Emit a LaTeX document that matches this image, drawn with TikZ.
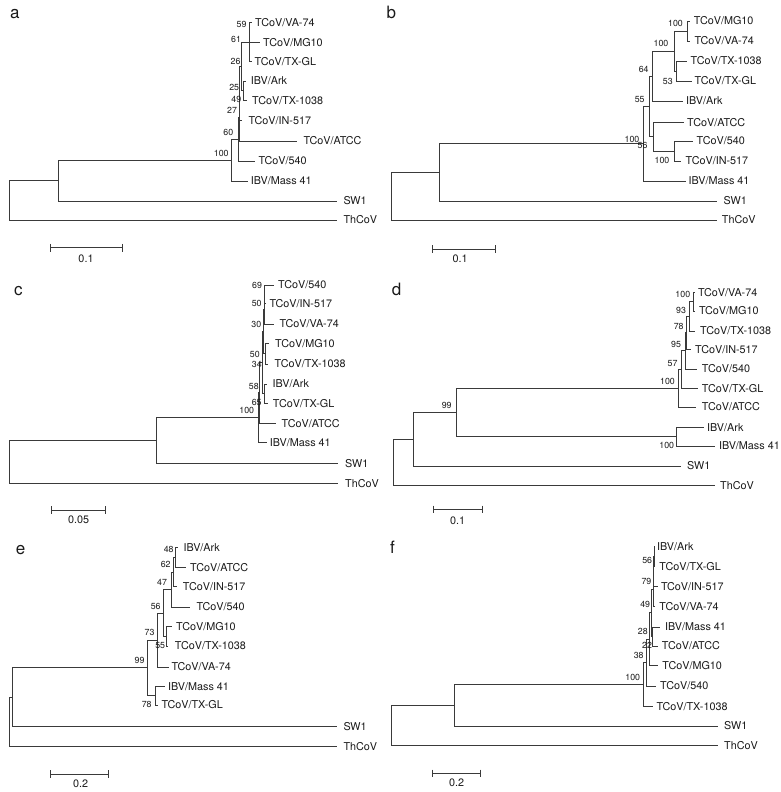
\documentclass[tikz,border=0pt]{standalone}
\usepackage{fontspec}
\setmainfont{TeX Gyre Heros}
\usetikzlibrary{calc}
\definecolor{lncol}{HTML}{3A3A3A}
\definecolor{txcol}{HTML}{1A1A1A}
\tikzset{
  br/.style={draw=lncol, line width=0.9pt, line join=miter},
  lab/.style={anchor=base west, inner sep=0pt, text=txcol, font=\fontsize{10.8}{12}\selectfont},
  bsl/.style={inner sep=0pt, text=txcol, font=\fontsize{8.8}{10}\selectfont},
  scl/.style={anchor=base, inner sep=0pt, text=txcol, font=\fontsize{10.8}{12}\selectfont},
  panel/.style={anchor=base west, inner sep=0pt, text=txcol, font=\fontsize{17}{19}\selectfont}
}
\newcommand\leafnode[5]{\coordinate (#1) at (#2,#3); \node[lab] (#1l) at (#4,#3+3.9) {#5};}
\newcommand\inode[4]{\path let \p1=($(#3)!0.5!(#4)$) in coordinate (#1) at (#2pt,\y1); \draw[br] (#1) |- (#3) (#1) |- (#4);}
\newcommand\bsval[4]{\node[bsl] (#1) at (#2,#3) {#4};}
\newcommand\sbar[7]{\coordinate (#1a) at (#2,#4); \coordinate (#1b) at (#3,#4);
  \draw[br] (#1a) -- (#1b);
  \draw[br] ($(#1a)+(0,-3.8)$) -- ($(#1a)+(0,3.8)$);
  \draw[br] ($(#1b)+(0,-3.8)$) -- ($(#1b)+(0,3.8)$);
  \node[scl] (#1l) at (#5,#6+3.9) {#7};}
\begin{document}
\begin{tikzpicture}[x=1pt,y=-1pt]
\useasboundingbox[fill=white] (0,0) rectangle (780,792);
% ================= panel a
\node[panel] (pa) at (10,19) {a};
\leafnode{aVA}{251.5}{22.7}{255}{TCoV/VA-74}
\leafnode{aMG}{260}{42.3}{263}{TCoV/MG10}
\leafnode{aGL}{252}{61.7}{254.5}{TCoV/TX-GL}
\leafnode{aArk}{245.5}{81}{250.7}{IBV/Ark}
\leafnode{a1038}{246.5}{100.7}{252}{TCoV/TX-1038}
\leafnode{aIN}{242}{120.7}{248.3}{TCoV/IN-517}
\leafnode{aATCC}{296.7}{141}{303.3}{TCoV/ATCC}
\leafnode{a540}{255}{161}{258.3}{TCoV/540}
\leafnode{aMass}{248.3}{181}{250.7}{IBV/Mass 41}
\leafnode{aSW}{336.7}{201}{343.3}{SW1}
\leafnode{aTh}{336.7}{220}{343.3}{ThCoV}
\inode{aN59}{249}{aVA}{aGL}
\inode{aN61}{246.7}{aN59}{aMG}
\inode{aN25}{243.3}{aArk}{a1038}
\inode{aN26}{241}{aN61}{aN25}
\inode{aN49}{239.8}{aN26}{aIN}
\inode{aN27}{239.2}{aN49}{aATCC}
\inode{aN60}{238.7}{aN27}{a540}
\inode{aN100}{231.3}{aN60}{aMass}
\inode{aN1}{58.7}{aN100}{aSW}
\inode{aRoot}{9.3}{aN1}{aTh}
\bsval{aB59}{241.5}{24.5}{59}
\bsval{aB61}{236}{39.7}{61}
\bsval{aB26}{235.6}{61.8}{26}
\bsval{aB25}{234.2}{87.8}{25}
\bsval{aB49}{236.3}{99.7}{49}
\bsval{aB27}{232}{110.8}{27}
\bsval{aB60}{228.3}{132.2}{60}
\bsval{aB100}{221.3}{153}{100}
\sbar{aS}{50}{122.3}{247.7}{86}{258.3}{0.1}
% ================= panel b
\node[panel] (pb) at (386.5,18.5) {b};
\leafnode{bMG}{690}{21}{693.7}{TCoV/MG10}
\leafnode{bVA}{690}{41}{694.3}{TCoV/VA-74}
\leafnode{b1038}{686.7}{61}{690.5}{TCoV/TX-1038}
\leafnode{bGL}{691.5}{81}{694.5}{TCoV/TX-GL}
\leafnode{bArk}{682.5}{101}{686}{IBV/Ark}
\leafnode{bATCC}{684}{122.7}{687}{TCoV/ATCC}
\leafnode{b540}{693}{141}{696.5}{TCoV/540}
\leafnode{bIN}{681}{161}{685.5}{TCoV/IN-517}
\leafnode{bMass}{685.5}{181}{688.5}{IBV/Mass 41}
\leafnode{bSW}{716.7}{201}{723.5}{SW1}
\leafnode{bTh}{716.7}{220}{721.7}{ThCoV}
\inode{bN100c}{687.5}{bMG}{bVA}
\inode{bN53}{676.5}{b1038}{bGL}
\inode{bN100b}{674.5}{bN100c}{bN53}
\inode{bN64}{652.7}{bN100b}{bArk}
\inode{bN100d}{674.3}{b540}{bIN}
\inode{bN56}{653}{bATCC}{bN100d}
\inode{bN55}{649.3}{bN64}{bN56}
\inode{bN100}{643.3}{bN55}{bMass}
\inode{bN1}{439.3}{bN100}{bSW}
\inode{bRoot}{391.7}{bN1}{bTh}
\bsval{bB100c}{675.5}{23.5}{100}
\bsval{bB100b}{661}{43.3}{100}
\bsval{bB64}{643.7}{69.3}{64}
\bsval{bB53}{667.8}{81}{53}
\bsval{bB55}{639.7}{99.7}{55}
\bsval{bB100}{632}{139.5}{100}
\bsval{bB56}{642.5}{145}{56}
\bsval{bB100d}{662}{160.5}{100}
\sbar{bS}{432.3}{495}{249}{460}{258.3}{0.1}
% ================= panel c
\node[panel] (pc) at (14,295) {c};
\leafnode{c540}{273.5}{285}{278}{TCoV/540}
\leafnode{cIN}{265.3}{303.3}{269.3}{TCoV/IN-517}
\leafnode{cVA}{274}{324}{279.3}{TCoV/VA-74}
\leafnode{cMG}{269}{343.3}{275}{TCoV/MG10}
\leafnode{c1038}{268}{364}{274.5}{TCoV/TX-1038}
\leafnode{cArk}{266.7}{384}{272.5}{IBV/Ark}
\leafnode{cGL}{268}{403.3}{272.7}{TCoV/TX-GL}
\leafnode{cATCC}{276.3}{423.3}{281.5}{TCoV/ATCC}
\leafnode{cMass}{266.7}{442.7}{269.7}{IBV/Mass 41}
\leafnode{cSW}{337.5}{463.3}{345}{SW1}
\leafnode{cTh}{337.5}{483.3}{345}{ThCoV}
\inode{cN69}{264.5}{c540}{cIN}
\inode{cN50a}{264}{cN69}{cVA}
\inode{cNMT}{265}{cMG}{c1038}
\inode{cN50b}{263.3}{cN50a}{cNMT}
\inode{cN58}{264.3}{cArk}{cGL}
\inode{cN34}{262}{cN50b}{cN58}
\inode{cN65}{259.7}{cN34}{cATCC}
\inode{cN100}{258.7}{cN65}{cMass}
\inode{cN1}{156}{cN100}{cSW}
\inode{cRoot}{9.3}{cN1}{cTh}
\bsval{cB69}{257}{285.7}{69}
\bsval{cB50a}{256.7}{303}{50}
\bsval{cB30}{256.3}{324}{30}
\bsval{cB50b}{254.8}{354.7}{50}
\bsval{cB34}{256.8}{364}{34}
\bsval{cB58}{253.8}{386}{58}
\bsval{cB65}{256.7}{402.3}{65}
\bsval{cB100}{246.7}{410.8}{100}
\sbar{cS}{51.7}{105.7}{510}{78.7}{520}{0.05}
% ================= panel d
\node[panel] (pd) at (391.7,295) {d};
\leafnode{dVA}{695}{292.7}{697.8}{TCoV/VA-74}
\leafnode{dMG}{695}{311}{698.8}{TCoV/MG10}
\leafnode{d1038}{695}{331}{700}{TCoV/TX-1038}
\leafnode{dIN}{691}{349.3}{695}{TCoV/IN-517}
\leafnode{d540}{697}{369}{701.7}{TCoV/540}
\leafnode{dGL}{697.5}{388.3}{701.7}{TCoV/TX-GL}
\leafnode{dATCC}{695.5}{407}{701.7}{TCoV/ATCC}
\leafnode{dArk}{703.7}{427.2}{707}{IBV/Ark}
\leafnode{dMass}{715}{446}{718.8}{IBV/Mass 41}
\leafnode{dSW}{681.3}{466}{687}{SW1}
\leafnode{dTh}{715}{485.5}{720}{ThCoV}
\inode{dN100c}{693.3}{dVA}{dMG}
\inode{dN93}{689.7}{dN100c}{d1038}
\inode{dN78}{686}{dN93}{dIN}
\inode{dN95}{685}{dN78}{d540}
\inode{dN57}{681}{dN95}{dGL}
\inode{dN100t}{678}{dN57}{dATCC}
\inode{dN100i}{676.7}{dArk}{dMass}
\inode{dN99}{456}{dN100t}{dN100i}
\inode{dN1}{413.3}{dN99}{dSW}
\inode{dRoot}{393.3}{dN1}{dTh}
\bsval{dB100c}{682.8}{294.3}{100}
\bsval{dB93}{681}{310.3}{93}
\bsval{dB78}{678.7}{326}{78}
\bsval{dB95}{676}{344.7}{95}
\bsval{dB57}{672.5}{363.3}{57}
\bsval{dB100t}{667.5}{381.7}{100}
\bsval{dB99}{446.7}{405.7}{99}
\bsval{dB100i}{666.7}{445}{100}
\sbar{dS}{433.3}{482.3}{509.3}{457.7}{520.7}{0.1}
% ================= panel e
\node[panel] (pe) at (15.7,554) {e};
\leafnode{eArk}{178}{547.7}{183.3}{IBV/Ark}
\leafnode{eATCC}{185.5}{567.7}{190}{TCoV/ATCC}
\leafnode{eIN}{176.5}{586.7}{182.7}{TCoV/IN-517}
\leafnode{e540}{190}{607}{196.3}{TCoV/540}
\leafnode{eMG}{171.5}{626.7}{176}{TCoV/MG10}
\leafnode{e1038}{167.5}{646}{174.7}{TCoV/TX-1038}
\leafnode{eVA}{169}{667}{171.3}{TCoV/VA-74}
\leafnode{eMass}{164.7}{686.3}{168}{IBV/Mass 41}
\leafnode{eGL}{157.5}{705}{161.3}{TCoV/TX-GL}
\leafnode{eSW}{336.7}{726.7}{343.3}{SW1}
\leafnode{eTh}{336.7}{746.7}{343.3}{ThCoV}
\inode{eN48}{175.5}{eArk}{eATCC}
\inode{eN62}{173}{eN48}{eIN}
\inode{eN47}{171}{eN62}{e540}
\inode{eN55}{166}{eMG}{e1038}
\inode{eN56}{163.3}{eN47}{eN55}
\inode{eN73}{157.7}{eN56}{eVA}
\inode{eN78}{155.3}{eMass}{eGL}
\inode{eN99}{147.7}{eN73}{eN78}
\inode{eN1}{12.3}{eN99}{eSW}
\inode{eRoot}{9.3}{eN1}{eTh}
\bsval{eB48}{168.7}{549.3}{48}
\bsval{eB62}{165.7}{564}{62}
\bsval{eB47}{162}{582.3}{47}
\bsval{eB56}{155.7}{606}{56}
\bsval{eB73}{149.5}{632.3}{73}
\bsval{eB55}{160.2}{646}{55}
\bsval{eB99}{139.5}{660.7}{99}
\bsval{eB78}{146.7}{704.3}{78}
\sbar{eS}{50.7}{108.3}{774}{80.7}{783.3}{0.2}
% ================= panel f
\node[panel] (pf) at (390,553.3) {f};
\leafnode{fArk}{654.5}{546.7}{657}{IBV/Ark}
\leafnode{fGL}{655}{566.7}{659.2}{TCoV/TX-GL}
\leafnode{fIN}{658}{586.7}{660.8}{TCoV/IN-517}
\leafnode{fVA}{655}{606.5}{659.2}{TCoV/VA-74}
\leafnode{fMass}{659.5}{627}{665}{IBV/Mass 41}
\leafnode{fATCC}{658}{646}{661.7}{TCoV/ATCC}
\leafnode{fMG}{658}{665.3}{662.2}{TCoV/MG10}
\leafnode{f540}{656}{686}{660}{TCoV/540}
\leafnode{f1038}{653}{706.3}{656.3}{TCoV/TX-1038}
\leafnode{fSW}{717.5}{726}{724}{SW1}
\leafnode{fTh}{717.5}{745.5}{724}{ThCoV}
\inode{fN56}{654}{fArk}{fGL}
\inode{fN79}{653.5}{fN56}{fIN}
\inode{fN49}{653}{fN79}{fVA}
\inode{fNMA}{652.7}{fMass}{fATCC}
\inode{fN28}{651}{fN49}{fNMA}
\inode{fN22}{649.3}{fN28}{fMG}
\inode{fN38}{646.7}{fN22}{f540}
\inode{fN100}{643.8}{fN38}{f1038}
\inode{fN1}{454}{fN100}{fSW}
\inode{fRoot}{391.7}{fN1}{fTh}
\bsval{fB56}{647.2}{560.7}{56}
\bsval{fB79}{646.4}{581}{79}
\bsval{fB49}{645.2}{604.3}{49}
\bsval{fB28}{642.8}{631.7}{28}
\bsval{fB22}{647}{645.5}{22}
\bsval{fB38}{638.7}{655.5}{38}
\bsval{fB100}{632.7}{677.2}{100}
\sbar{fS}{432.3}{480}{773.3}{456.7}{782.3}{0.2}
\end{tikzpicture}
\end{document}
